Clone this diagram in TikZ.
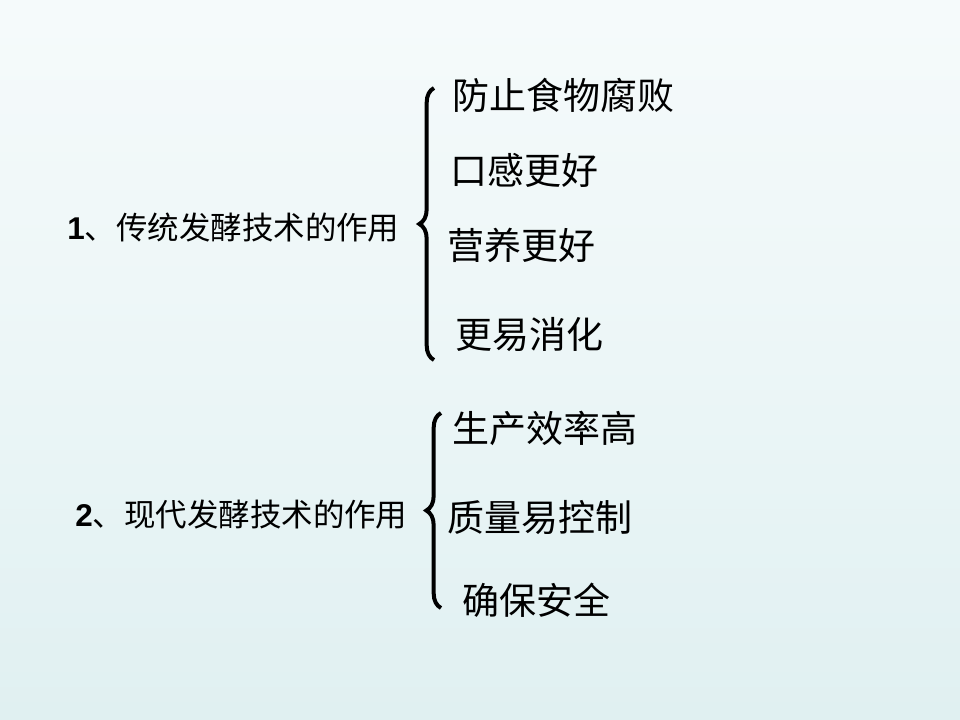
\documentclass[tikz,border=0pt]{standalone}
\usepackage{fontspec}
\setmainfont{Liberation Sans}
\newfontfamily\cjk{Noto Sans CJK SC}
\usetikzlibrary{decorations.pathreplacing}

\definecolor{bgmid}{RGB}{236,246,247}
\definecolor{bglow}{RGB}{220,238,239}
\definecolor{bgbot}{RGB}{236,247,248}
\pgfdeclareverticalshading{slidebg}{100bp}{color(0bp)=(bgbot); color(17bp)=(bglow); color(50bp)=(bgmid); color(100bp)=(white)}

\tikzset{
  head/.style={anchor=west,inner sep=0pt,font=\fontsize{23.6}{26}\selectfont},
  item/.style={anchor=west,inner sep=0pt,font=\fontsize{27.75}{30}\selectfont\cjk},
  bracel/.style={decorate,decoration={brace,amplitude=11pt,aspect=0.5},line width=3pt}
}

\begin{document}
\begin{tikzpicture}[x=0.75pt,y=-0.75pt]

  \shade[shading=slidebg] (0,0) rectangle (960,720);
  \useasboundingbox (0,0) rectangle (960,720);

  % first group
  \node[head] at (67,228) (h1) {\textbf{1}\cjk 、传统发酵技术的作用};

  \node[item] at (452,95) (a1) {防止食物腐败};
  \node[item] at (450,170) (a2) {口感更好};
  \node[item] at (447,245) (a3) {营养更好};
  \node[item] at (455,335) (a4) {更易消化};

  \coordinate (b1top) at (434,88);
  \coordinate (b1bot) at (434,360);
  \draw[bracel] (b1bot) -- (b1top);

  % second group
  \node[head] at (75,515) (h2) {\textbf{2}\cjk 、现代发酵技术的作用};

  \node[item] at (452,428) (c1) {生产效率高};
  \node[item] at (447,518) (c2) {质量易控制};
  \node[item] at (462,600) (c3) {确保安全};

  \coordinate (b2top) at (441,413);
  \coordinate (b2bot) at (441,608);
  \draw[bracel] (b2bot) -- (b2top);

\end{tikzpicture}
\end{document}
